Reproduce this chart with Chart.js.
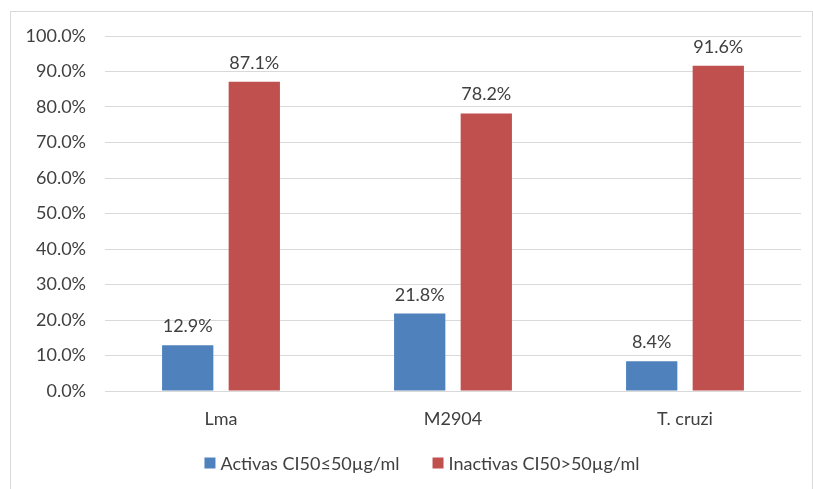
<!DOCTYPE html>
<html><head><meta charset="utf-8">
<script src="https://cdn.jsdelivr.net/npm/chart.js@4"></script>
<style>html,body{margin:0;padding:0;background:#fff}#wrap{position:absolute;left:0;top:0;width:813px;height:489px}</style>
</head><body><div id="wrap"><canvas id="c" width="813" height="489"></canvas></div>
<script>
const categories = ["Lma", "M2904", "T. cruzi"];
const activas = [12.9, 21.8, 8.4];
const inactivas = [87.1, 78.2, 91.6];
const seriesNames = ["Activas CI50\u226450\u00b5g/ml", "Inactivas CI50>50\u00b5g/ml"];
const FONT = "Lato, 'Open Sans', sans-serif";
const TEXT = '#404040';

const borderPlugin = {
  id: 'outerBorder',
  beforeDraw(chart) {
    const ctx = chart.ctx;
    ctx.save();
    ctx.strokeStyle = '#d9d9d9';
    ctx.lineWidth = 1;
    ctx.strokeRect(10.5, 11.5, 802, 490);
    ctx.restore();
  }
};
const labelPlugin = {
  id: 'barLabels',
  afterDatasetsDraw(chart) {
    const ctx = chart.ctx;
    ctx.save();
    ctx.font = "18px " + FONT;
    ctx.fillStyle = TEXT;
    ctx.textAlign = 'center';
    ctx.textBaseline = 'alphabetic';
    chart.data.datasets.forEach((ds, i) => {
      chart.getDatasetMeta(i).data.forEach((bar, j) => {
        ctx.fillText(ds.data[j].toFixed(1) + '%', bar.x, bar.y - 13);
      });
    });
    ctx.restore();
  }
};
const legendPlugin = {
  id: 'customLegend',
  afterDraw(chart) {
    const ctx = chart.ctx;
    ctx.save();
    ctx.font = "18px " + FONT;
    ctx.textBaseline = 'middle';
    ctx.textAlign = 'left';
    const box = 11, gapText = 5, gapItem = 33;
    const items = chart.data.datasets.map(ds => ({ label: ds.label, color: ds.backgroundColor, w: ctx.measureText(ds.label).width }));
    let total = 0;
    items.forEach((it, i) => { total += box + gapText + it.w + (i < items.length - 1 ? gapItem : 0); });
    let x = 422 - total / 2;
    const y = 463;
    items.forEach(it => {
      ctx.fillStyle = it.color;
      ctx.fillRect(x, y - box / 2, box, box);
      ctx.fillStyle = TEXT;
      ctx.fillText(it.label, x + box + gapText, y + 1);
      x += box + gapText + it.w + gapItem;
    });
    ctx.restore();
  }
};

new Chart(document.getElementById('c'), {
  type: 'bar',
  data: {
    labels: categories,
    datasets: [
      { label: seriesNames[0], data: activas, backgroundColor: '#4f81bd' },
      { label: seriesNames[1], data: inactivas, backgroundColor: '#c0504d' }
    ]
  },
  options: {
    responsive: false,
    animation: false,
    layout: { padding: { left: 0, right: 12, top: 36, bottom: 53 } },
    categoryPercentage: 0.574,
    barPercentage: 0.77,
    scales: {
      x: {
        grid: { display: false, drawTicks: false },
        border: { display: false },
        ticks: { color: TEXT, font: { family: FONT, size: 18 }, padding: 17 },
        afterFit(s) { s.height = 45; }
      },
      y: {
        min: 0, max: 100,
        grid: { color: '#d9d9d9', lineWidth: 1, drawTicks: false },
        border: { display: false },
        ticks: { stepSize: 10, color: TEXT, font: { family: FONT, size: 18 }, padding: 19,
          callback: v => v.toFixed(1) + '%' },
        afterFit(s) { s.width = 105; }
      }
    },
    plugins: {
      legend: { display: false },
      tooltip: { enabled: false }
    }
  },
  plugins: [borderPlugin, labelPlugin, legendPlugin]
});
</script></body></html>
